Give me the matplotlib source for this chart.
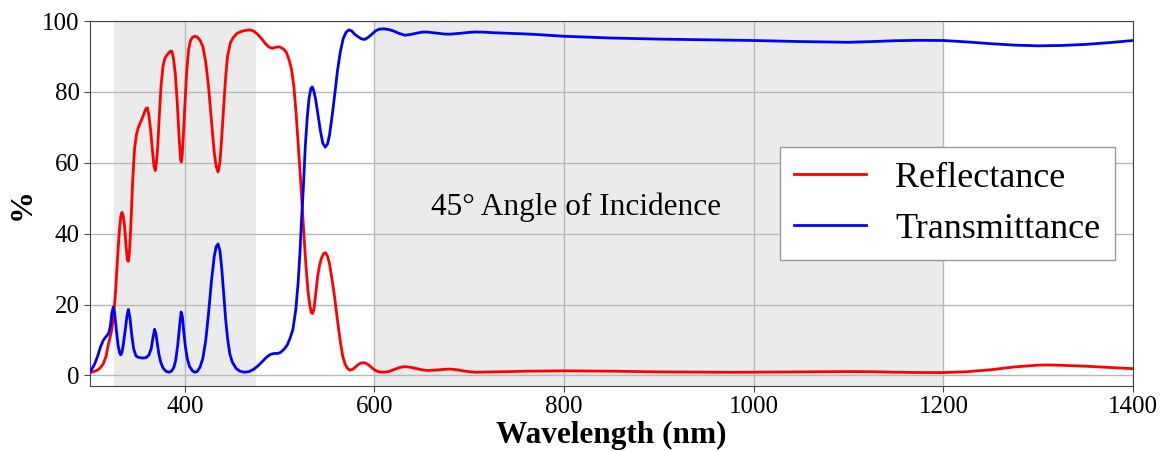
import matplotlib
matplotlib.use("Agg")
import matplotlib.pyplot as plt

# Wavelength (nm) and reflectance (%)
refl_nm = [300, 304, 308, 311, 314, 317, 319, 321, 323, 325, 327, 329, 331, 332.5, 333.7, 335,
           336.5, 338, 339.5, 340.5, 341.5, 343, 345, 347, 349, 351, 353, 355, 357, 359,
           360.5, 362, 364, 366, 367.5, 368.8, 370, 371.5, 373, 375, 377, 379, 381, 383,
           385, 386.5, 388, 390, 392, 394, 395.5, 396.3, 397.2, 398.5, 400, 402, 404, 406,
           408, 410.5, 413, 416, 419, 422, 425, 428, 431, 433, 435, 437, 439, 441, 443,
           445, 448, 451, 455, 460, 465, 469, 473, 477, 481, 485, 488.5, 492, 496, 500,
           504, 507, 510, 512.5, 515, 517.5, 520, 522, 524, 526, 528, 530, 532, 533.5,
           535, 536.5, 538, 540, 542, 544, 546.5, 548.5, 550.5, 552.5, 555, 558, 561,
           564, 566.5, 569, 571.5, 574, 577, 580, 583, 586, 589, 592, 595, 598, 601, 605,
           610, 615, 620, 626, 632, 638, 645, 650, 655, 662, 668, 675, 680, 687, 693, 700,
           707, 718, 730, 745, 760, 780, 800, 825, 850, 875, 900, 925, 950, 975, 1000,
           1025, 1050, 1075, 1100, 1125, 1150, 1175, 1200, 1225, 1250, 1275, 1300, 1310,
           1325, 1350, 1375, 1400]
refl_pct = [0.8, 1.1, 1.5, 2.2, 3.3, 5.5, 8.3, 10.5, 13, 17, 24, 33, 41, 45, 46, 45,
            42, 36.5, 32.5, 32.2, 34.5, 42, 55, 64, 68, 70, 71.3, 72.5, 74, 75.3,
            75.5, 73.5, 69, 63, 59, 57.8, 60, 65, 73, 82, 87.3, 89.5, 90.3, 91,
            91.5, 91.4, 89.5, 85, 77, 67, 61, 60.2, 62, 68, 76, 86, 92, 94.5,
            95.4, 95.7, 95.5, 94.6, 92.8, 88.5, 81.5, 72, 63, 59, 57.4, 60, 67.5, 76, 84,
            90, 93.8, 95.3, 96.5, 97.1, 97.4, 97.5, 97.1, 96.2, 95, 93.6, 92.7, 92.3, 92.6, 92.7,
            92.1, 91.2, 89, 86.4, 81.5, 73.4, 63.5, 55.5, 46.5, 38, 30, 23.5, 19.5, 17.6,
            17.5, 19.3, 23, 27.8, 31, 33, 34.4, 34.6, 33.6, 31.6, 27.5, 22, 15.5,
            9.5, 5.5, 3.2, 2, 1.5, 1.7, 2.4, 3.1, 3.5, 3.6, 3.3, 2.7, 2, 1.4, 1.0,
            0.9, 1.1, 1.6, 2.2, 2.5, 2.3, 1.9, 1.6, 1.4, 1.45, 1.6, 1.75, 1.8, 1.6, 1.3, 1.05,
            0.9, 0.95, 1.0, 1.1, 1.2, 1.25, 1.3, 1.25, 1.2, 1.1, 1.0, 0.95, 0.9, 0.88, 0.9,
            0.95, 1.0, 1.05, 1.1, 1.05, 0.9, 0.82, 0.8, 1.05, 1.6, 2.4, 2.9, 2.95,
            2.85, 2.6, 2.25, 1.9]

# Wavelength (nm) and transmittance (%)
trans_nm = [300, 302, 305, 308, 311, 314, 317, 319.6, 321.5, 323, 324.5, 326, 327.7, 329.5,
            331, 332.3, 333.5, 335, 337, 339, 340.4, 342, 344, 346, 348.5, 351, 355, 359,
            362, 364.6, 366.5, 368.1, 369.5, 371, 372.5, 374.5, 377, 380, 383, 386, 388.5,
            390.5, 392.5, 394.5, 396.1, 397.5, 399, 400.5, 402.5, 405, 408, 410.5, 413,
            416, 419, 422, 425, 428, 431, 433, 435, 437, 439, 441, 443, 445, 447.5, 450,
            454, 458, 463, 468, 473, 478, 482, 486, 490, 494, 498, 501, 505, 508, 511,
            514, 517, 519.5, 521.5, 523, 525, 527, 529, 531, 533, 534.5, 536, 538, 540.5,
            543, 545.5, 548, 550.5, 552.5, 555, 558, 561, 564, 567, 570, 573, 576, 579,
            582.5, 586, 589.5, 593, 597, 601, 605, 610, 615, 620, 626, 632, 638, 645,
            650, 655, 662, 668, 675, 680, 687, 693, 700, 707, 716, 725, 735, 746, 760,
            771, 785, 800, 825, 850, 875, 900, 925, 950, 975, 1000, 1025, 1050, 1075,
            1100, 1125, 1150, 1175, 1200, 1225, 1250, 1275, 1300, 1325, 1350, 1375, 1400]
trans_pct = [1.0, 1.8, 3.3, 5.4, 8, 9.9, 11, 11.8, 14, 17.5, 19.3, 17.5, 13, 8.7,
             6.6, 5.8, 6.3, 8.5, 12.5, 16.8, 18.6, 16.5, 11.5, 7.5, 5.5, 5.1, 4.9, 5.0,
             5.7, 7.6, 10.8, 13, 11.8, 9, 6.2, 3.8, 2.1, 1.2, 0.9, 1.2, 2.3,
             4.5, 8.5, 14, 17.9, 16.5, 12, 8.3, 4.8, 2.5, 1.3, 0.9, 1.1,
             2.3, 4.8, 9.8, 17.5, 26.5, 33.5, 36.3, 37.1, 35.2, 30, 23, 16, 10.5, 6, 3.8,
             2, 1.2, 0.9, 1.1, 1.8, 2.9, 4.0, 5.1, 5.9, 6.2, 6.2, 6.5, 7.5, 8.6, 10.5,
             13, 18.5, 26.2, 35, 43.5, 53, 64.5, 72.5, 78.2, 81, 81.4, 80.3, 77.8, 73.5,
             69, 65.5, 64.4, 65.3, 67.7, 72.5, 79, 86, 91.3, 95, 96.8, 97.5, 97.2, 96.3,
             95.6, 95.0, 94.8, 95.3, 96.2, 97.2, 97.7, 97.8, 97.6, 97.2, 96.5, 96.0, 96.2, 96.6,
             96.85, 96.9, 96.7, 96.5, 96.3, 96.3, 96.45, 96.6, 96.8, 96.9, 96.85, 96.7, 96.6, 96.5, 96.35,
             96.2, 95.95, 95.7, 95.45, 95.2, 95.05, 94.9, 94.8, 94.7, 94.6, 94.5, 94.35, 94.2, 94.1,
             94.0, 94.2, 94.45, 94.55, 94.5, 94.1, 93.6, 93.2, 93.0, 93.1, 93.4, 93.9, 94.5]

# shaded wavelength bands
bands = [(325, 475), (600, 1200)]

plt.rcParams['font.family'] = ['Liberation Serif', 'DejaVu Serif']

fig = plt.figure(figsize=(11.66, 4.51), dpi=100)
ax = fig.add_axes([0.0772, 0.144, 0.8945, 0.8094])

for lo, hi in bands:
    ax.axvspan(lo, hi, color='#ebebeb', zorder=0, lw=0)

ax.plot(refl_nm, refl_pct, color='red', lw=2, label='Reflectance', zorder=3)
ax.plot(trans_nm, trans_pct, color='blue', lw=2, label='Transmittance', zorder=3)

ax.set_xlim(300, 1400)
ax.set_ylim(-3, 100)
ax.set_xticks([400, 600, 800, 1000, 1200, 1400])
ax.set_yticks([0, 20, 40, 60, 80, 100])
ax.grid(True, color='#b8b8b8', lw=1, zorder=0.5)
ax.set_axisbelow(True)
ax.tick_params(labelsize=18, length=4, color='#444444')
for s in ax.spines.values():
    s.set_color('#444444')

ax.set_xlabel('Wavelength (nm)', fontsize=22.5, fontweight='bold', labelpad=2)
ax.set_ylabel('%', fontsize=23, fontweight='bold', labelpad=4)

ax.text(813, 45.2, '45° Angle of Incidence', fontsize=22.5, ha='center', va='baseline')

leg = ax.legend(loc='center right', fontsize=26, fancybox=False, framealpha=1,
                edgecolor='#999999', borderaxespad=0.5)
leg.get_frame().set_linewidth(1)

fig.savefig('out.png', dpi=100)
